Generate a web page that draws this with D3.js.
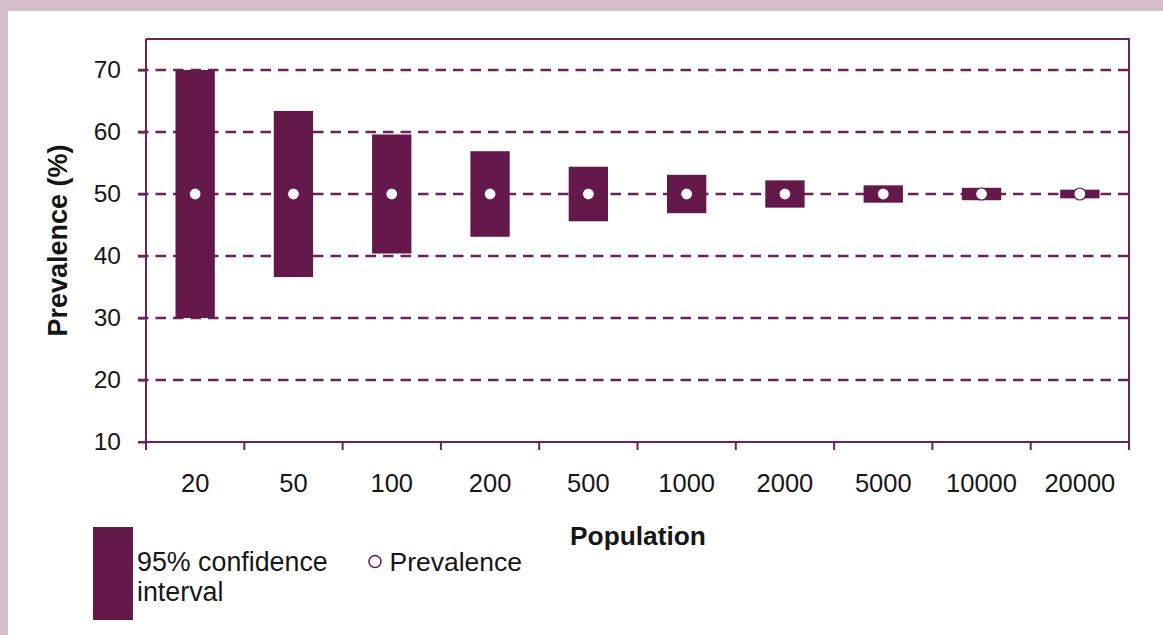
<!DOCTYPE html>
<html>
<head>
<meta charset="utf-8">
<script src="https://cdn.jsdelivr.net/npm/d3@7"></script>
<style>
  html, body { margin: 0; padding: 0; background: #ffffff; }
  svg { display: block; font-family: "Liberation Sans", Arial, sans-serif; }
</style>
</head>
<body>
<svg id="chart" width="1163" height="635"></svg>
<script>
// Population sizes and the 95% confidence interval around a 50% prevalence
const populations = ["20", "50", "100", "200", "500", "1000", "2000", "5000", "10000", "20000"];
const prevalence  = [50, 50, 50, 50, 50, 50, 50, 50, 50, 50];
const ciLower     = [30.0, 36.6, 40.4, 43.1, 45.6, 46.9, 47.8, 48.6, 49.0, 49.3];
const ciUpper     = [70.0, 63.4, 59.6, 56.9, 54.4, 53.1, 52.2, 51.4, 51.0, 50.7];
const yTicks      = [10, 20, 30, 40, 50, 60, 70];

const maroon = "#65184a";
const lineCol = "#6a2356";
const textCol = "#161616";

const svg = d3.select("#chart");
const W = 1163, H = 635;

// page frame: pink strip along the top and left edges
svg.append("rect").attr("x", 0).attr("y", 0).attr("width", W).attr("height", H).attr("fill", "#d5bdca");
svg.append("rect").attr("x", 8).attr("y", 11).attr("width", W - 8).attr("height", H - 11).attr("fill", "#ffffff");

const plot = { left: 146, right: 1129, top: 39, bottom: 442 };

const x = d3.scaleBand().domain(populations).range([plot.left, plot.right]).paddingInner(0).paddingOuter(0);
const y = d3.scaleLinear().domain([10, 75]).range([plot.bottom, plot.top]);

// frame top and right
svg.append("path")
  .attr("d", `M${plot.left},${plot.top}H${plot.right}V${plot.bottom}`)
  .attr("fill", "none").attr("stroke", lineCol).attr("stroke-width", 2);

// dashed gridlines
svg.append("g").selectAll("line")
  .data(yTicks.filter(t => t > 10))
  .join("line")
  .attr("x1", plot.left - 8).attr("x2", plot.right)
  .attr("y1", d => y(d)).attr("y2", d => y(d))
  .attr("stroke", lineCol).attr("stroke-width", 2.5)
  .attr("stroke-dasharray", "10.5,7");

// confidence interval bars
const barW = x.bandwidth() * 0.4;
svg.append("g").selectAll("rect")
  .data(populations)
  .join("rect")
  .attr("x", d => x(d) + (x.bandwidth() - barW) / 2)
  .attr("width", barW)
  .attr("y", (d, i) => y(ciUpper[i]))
  .attr("height", (d, i) => y(ciLower[i]) - y(ciUpper[i]))
  .attr("fill", maroon);

// prevalence points
svg.append("g").selectAll("circle")
  .data(populations)
  .join("circle")
  .attr("cx", d => x(d) + x.bandwidth() / 2)
  .attr("cy", (d, i) => y(prevalence[i]))
  .attr("r", 6)
  .attr("fill", "#ffffff")
  .attr("stroke", maroon).attr("stroke-width", 1.2);

// y axis
const yAxis = svg.append("g")
  .attr("transform", `translate(${plot.left},0)`)
  .call(d3.axisLeft(y).tickValues(yTicks).tickSize(8).tickPadding(17).tickSizeOuter(0));
yAxis.select(".domain").attr("stroke", lineCol).attr("stroke-width", 2)
  .attr("d", `M0,${plot.bottom}V${plot.top}`);
yAxis.selectAll(".tick line").attr("stroke", lineCol).attr("stroke-width", 2);
yAxis.selectAll(".tick text").attr("fill", textCol).style("font-size", "24.5px")
  .style("font-family", "'Liberation Sans', Arial, sans-serif");

// x axis: ticks on category boundaries
const xAxis = svg.append("g").attr("transform", `translate(0,${plot.bottom})`);
xAxis.append("line").attr("x1", plot.left - 8).attr("x2", plot.right)
  .attr("stroke", lineCol).attr("stroke-width", 2);
const bounds = populations.map(p => x(p)).concat([plot.right]);
xAxis.selectAll("line.tk").data(bounds).join("line").attr("class", "tk")
  .attr("x1", d => d).attr("x2", d => d).attr("y1", 0).attr("y2", 8)
  .attr("stroke", lineCol).attr("stroke-width", 2);
xAxis.selectAll("text").data(populations).join("text")
  .attr("x", d => x(d) + x.bandwidth() / 2)
  .attr("y", 50)
  .attr("text-anchor", "middle")
  .attr("fill", textCol)
  .style("font-size", "25.5px")
  .text(d => d);

// axis titles
svg.append("text")
  .attr("x", (plot.left + plot.right) / 2 + 0.5).attr("y", 545)
  .attr("text-anchor", "middle").attr("font-weight", "bold")
  .style("font-size", "26.3px").attr("fill", textCol)
  .text("Population");
svg.append("text")
  .attr("transform", `translate(67,${(plot.top + plot.bottom) / 2}) rotate(-90)`)
  .attr("text-anchor", "middle").attr("font-weight", "bold")
  .style("font-size", "27px").attr("fill", textCol)
  .text("Prevalence (%)");

// legend
const legend = svg.append("g");
legend.append("rect").attr("x", 93).attr("y", 527).attr("width", 40).attr("height", 93).attr("fill", maroon);
legend.append("text").attr("x", 137).attr("y", 571).style("font-size", "26.8px").attr("fill", textCol)
  .text("95% confidence");
legend.append("text").attr("x", 137).attr("y", 601).style("font-size", "26.8px").attr("fill", textCol)
  .text("interval");
legend.append("circle").attr("cx", 375).attr("cy", 561.5).attr("r", 6)
  .attr("fill", "#fff").attr("stroke", maroon).attr("stroke-width", 1.5);
legend.append("text").attr("x", 389.5).attr("y", 571).style("font-size", "26.5px").attr("fill", textCol)
  .text("Prevalence");
</script>
</body>
</html>
